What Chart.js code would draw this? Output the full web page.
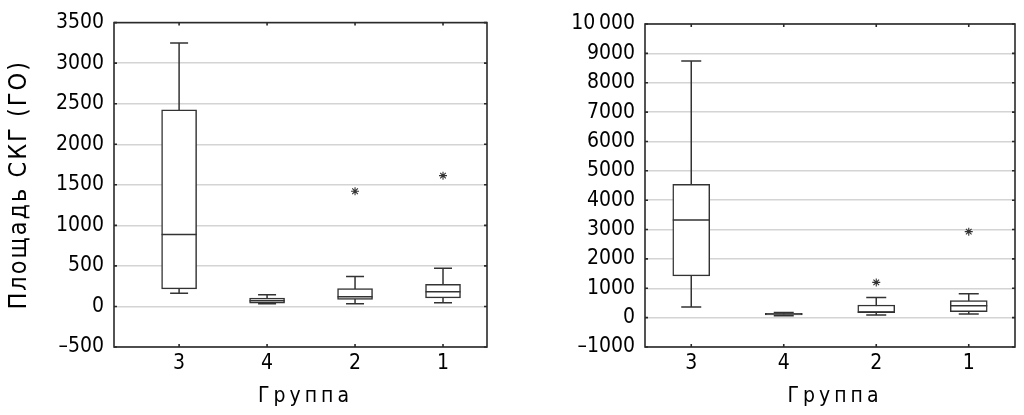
<!DOCTYPE html>
<html>
<head>
<meta charset="utf-8">
<script src="https://cdn.jsdelivr.net/npm/chart.js@4.4.1/dist/chart.umd.min.js"></script>
<style>
  html, body { margin: 0; padding: 0; background: #fff; }
  #wrap { position: relative; width: 1024px; height: 415px; }
  canvas { position: absolute; top: 0; }
</style>
</head>
<body>
<div id="wrap">
  <canvas id="areaChart" width="512" height="415" style="left:0"></canvas>
  <canvas id="volChart" width="512" height="415" style="left:512px"></canvas>
</div>
<script>
// categories, in the order they are shown
const groups = ['3', '4', '2', '1'];

// left plot: Площадь СКГ (ГО)
const areaMin = [163, 33, 33, 45];
const areaQ1 = [216, 41, 86, 106];
const areaMedian = [886, 70, 119, 180];
const areaQ3 = [2425, 102, 220, 274];
const areaMax = [3250, 143, 368, 470];
const areaOutliers = [null, null, 1421, 1613];
const areaTickValues = [-500, 0, 500, 1000, 1500, 2000, 2500, 3000, 3500];
const areaTickLabels = ['–500', '0', '500', '1000', '1500', '2000', '2500', '3000', '3500'];

// right plot
const volMin = [363, 60, 92, 125];
const volQ1 = [1424, 90, 170, 203];
const volMedian = [3322, 120, 193, 407];
const volQ3 = [4542, 150, 430, 577];
const volMax = [8736, 175, 690, 814];
const volOutliers = [null, null, 1200, 2929];
const volTickValues = [-1000, 0, 1000, 2000, 3000, 4000, 5000, 6000, 7000, 8000, 9000, 10000];
const volTickLabels = ['–1000', '0', '1000', '2000', '3000', '4000', '5000', '6000', '7000', '8000', '9000', '10\u2009000'];

const FONT = "'Liberation Sans Narrow', 'DejaVu Sans Condensed', 'Arial Narrow', sans-serif";
const LINE = '#333';

// whiskers under the boxes, medians on top of them
const boxLines = {
  id: 'boxLines',
  beforeDatasetsDraw(chart, args, opts) {
    const {ctx, scales: {x, y}} = chart;
    ctx.save();
    ctx.strokeStyle = LINE;
    ctx.lineWidth = 1.5;
    ctx.beginPath();
    opts.min.forEach((lo, i) => {
      const px = x.getPixelForValue(i + 1);
      const yLo = y.getPixelForValue(lo);
      const yHi = y.getPixelForValue(opts.max[i]);
      const c = opts.cap / 2;
      ctx.moveTo(px, yLo); ctx.lineTo(px, yHi);
      ctx.moveTo(px - c, yLo); ctx.lineTo(px + c, yLo);
      ctx.moveTo(px - c, yHi); ctx.lineTo(px + c, yHi);
    });
    ctx.stroke();
    ctx.restore();
  },
  afterDatasetsDraw(chart, args, opts) {
    const {ctx, scales: {y}} = chart;
    const meta = chart.getDatasetMeta(0);
    ctx.save();
    ctx.strokeStyle = LINE;
    ctx.lineWidth = 1.5;
    ctx.beginPath();
    meta.data.forEach((bar, i) => {
      const py = y.getPixelForValue(opts.median[i]);
      ctx.moveTo(bar.x - bar.width / 2, py);
      ctx.lineTo(bar.x + bar.width / 2, py);
    });
    ctx.stroke();
    ctx.restore();
  }
};

// closed frame with small inward ticks, titles with wide letter spacing
const frame = {
  id: 'frame',
  beforeDraw(chart) {
    Object.values(chart.scales).forEach(s => {
      if (s._spaced) return;
      const orig = s.drawTitle;
      s.drawTitle = function () {
        const t = this.options.title;
        this.ctx.save();
        this.ctx.letterSpacing = t.spacing || '0px';
        this.ctx.translate(t.shift || 0, 0);
        orig.apply(this, arguments);
        this.ctx.restore();
      };
      s._spaced = true;
    });
  },
  afterDraw(chart) {
    const {ctx, chartArea: a, scales: {x, y}} = chart;
    ctx.save();
    ctx.strokeStyle = '#2a2a2a';
    ctx.lineWidth = 1.6;
    ctx.strokeRect(a.left, a.top, a.right - a.left, a.bottom - a.top);
    ctx.beginPath();
    x.ticks.forEach(t => {
      const px = x.getPixelForValue(t.value);
      ctx.moveTo(px, a.bottom); ctx.lineTo(px, a.bottom - 3);
      ctx.moveTo(px, a.top); ctx.lineTo(px, a.top + 3);
    });
    y.ticks.forEach(t => {
      const py = y.getPixelForValue(t.value);
      ctx.moveTo(a.left, py); ctx.lineTo(a.left + 3, py);
      ctx.moveTo(a.right, py); ctx.lineTo(a.right - 3, py);
    });
    ctx.stroke();
    ctx.restore();
  }
};

function boxChart(canvasId, cfg) {
  const boxes = groups.map((g, i) => ({x: i + 1, y: [cfg.q1[i], cfg.q3[i]]}));
  const stars = [];
  cfg.outliers.forEach((v, i) => { if (v !== null) stars.push({x: i + 1, y: v}); });

  return new Chart(document.getElementById(canvasId), {
    type: 'bar',
    data: {
      datasets: [{
        data: boxes,
        backgroundColor: '#fff',
        borderColor: LINE,
        borderWidth: 1.5,
        borderSkipped: false,
        barThickness: cfg.boxWidth
      }, {
        type: 'scatter',
        data: stars,
        pointStyle: 'star',
        radius: 4,
        borderColor: '#333',
        borderWidth: 1.1
      }]
    },
    options: {
      responsive: false,
      animation: false,
      layout: {padding: cfg.padding},
      plugins: {
        legend: {display: false},
        tooltip: {enabled: false},
        boxLines: {min: cfg.min, max: cfg.max, median: cfg.median, cap: cfg.cap}
      },
      scales: {
        x: {
          type: 'linear',
          offset: false,
          min: cfg.xMin,
          max: 4.5,
          afterBuildTicks: s => { s.ticks = groups.map((g, i) => ({value: i + 1})); },
          afterFit: s => { s.height = 68; },
          grid: {display: false, drawTicks: false},
          border: {display: false},
          ticks: {
            padding: 4,
            autoSkip: false,
            color: '#000',
            font: {family: FONT, size: 21},
            callback: v => groups[v - 1]
          },
          title: {
            display: true,
            text: 'Группа',
            spacing: '4px',
            shift: 5,
            color: '#000',
            font: {family: FONT, size: 21},
            padding: {top: 0, bottom: 6}
          }
        },
        y: {
          min: cfg.tickValues[0],
          max: cfg.tickValues[cfg.tickValues.length - 1],
          afterBuildTicks: s => { s.ticks = cfg.tickValues.map(v => ({value: v})); },
          afterFit: s => { s.width = cfg.yWidth; },
          grid: {color: '#d4d4d4', lineWidth: 1.5, drawTicks: false},
          border: {display: false},
          ticks: {
            padding: 10,
            autoSkip: false,
            color: '#000',
            font: {family: FONT, size: 21},
            callback: (v, i) => cfg.tickLabels[i]
          },
          title: {
            display: !!cfg.yTitle,
            text: cfg.yTitle || '',
            spacing: '2px',
            color: '#000',
            font: {family: FONT, size: 25},
            padding: {top: 4, bottom: 0}
          }
        }
      }
    },
    plugins: [boxLines, frame]
  });
}

boxChart('areaChart', {
  q1: areaQ1, q3: areaQ3, min: areaMin, max: areaMax, median: areaMedian,
  outliers: areaOutliers, tickValues: areaTickValues, tickLabels: areaTickLabels,
  yTitle: 'Площадь СКГ (ГО)',
  xMin: 0.26, yWidth: 114, boxWidth: 35, cap: 18,
  padding: {top: 19, right: 25, left: 0, bottom: 0}
});

boxChart('volChart', {
  q1: volQ1, q3: volQ3, min: volMin, max: volMax, median: volMedian,
  outliers: volOutliers, tickValues: volTickValues, tickLabels: volTickLabels,
  yTitle: null,
  xMin: 0.5, yWidth: 133, boxWidth: 37, cap: 20,
  padding: {top: 24, right: 9, left: 0, bottom: 0}
});
</script>
</body>
</html>
